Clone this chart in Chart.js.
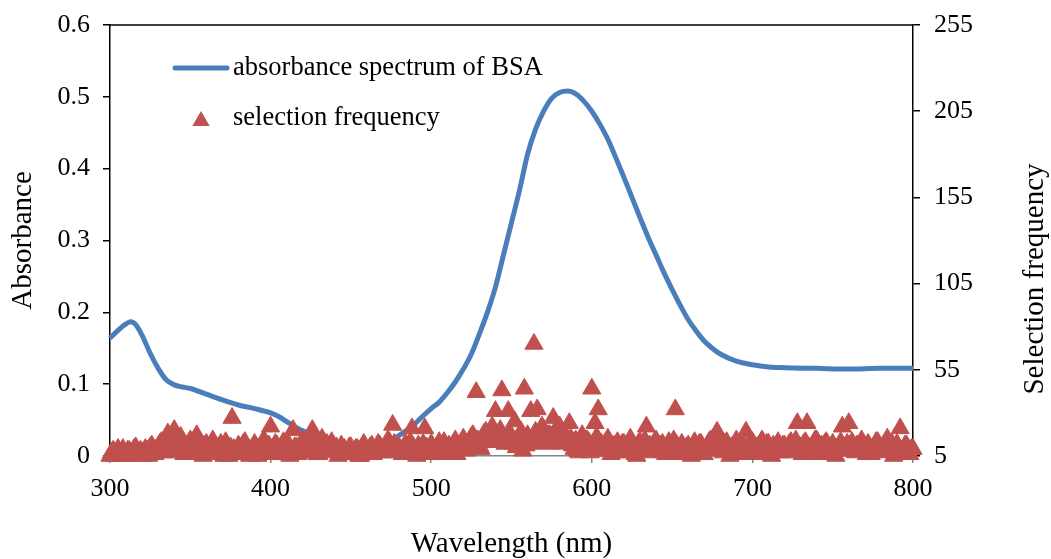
<!DOCTYPE html>
<html>
<head>
<meta charset="utf-8">
<script src="https://cdn.jsdelivr.net/npm/chart.js@4.4.1/dist/chart.umd.min.js"></script>
<style>
  html, body { margin: 0; padding: 0; background: #ffffff; }
  #wrap { width: 1051px; height: 559px; position: relative; }
</style>
</head>
<body>
<div id="wrap"><canvas id="chart" width="1051" height="559"></canvas></div>
<script>
// Absorbance spectrum of BSA: wavelength (nm) and absorbance
const absWavelengths = [300, 305, 310, 313, 316, 320, 325, 330, 335, 340, 345, 350, 360, 370, 380, 390, 400, 405, 410, 415, 420, 430, 440, 450, 460, 470, 478, 485, 490, 495, 500, 505, 510, 515, 520, 525, 530, 535, 540, 545, 550, 555, 560, 565, 570, 575, 580, 585, 590, 595, 600, 605, 610, 615, 620, 625, 630, 635, 640, 645, 650, 655, 660, 665, 670, 675, 680, 690, 700, 710, 720, 740, 760, 780, 800];
const absorbance = [0.164, 0.175, 0.184, 0.187, 0.183, 0.168, 0.143, 0.122, 0.106, 0.099, 0.096, 0.094, 0.086, 0.078, 0.071, 0.066, 0.060, 0.055, 0.048, 0.041, 0.035, 0.025, 0.018, 0.014, 0.014, 0.018, 0.026, 0.036, 0.045, 0.056, 0.066, 0.075, 0.088, 0.103, 0.121, 0.142, 0.170, 0.200, 0.235, 0.280, 0.325, 0.370, 0.420, 0.455, 0.480, 0.498, 0.506, 0.508, 0.504, 0.494, 0.480, 0.462, 0.441, 0.415, 0.388, 0.360, 0.332, 0.305, 0.280, 0.255, 0.232, 0.210, 0.190, 0.174, 0.160, 0.150, 0.142, 0.132, 0.127, 0.124, 0.123, 0.122, 0.121, 0.122, 0.122];

// Selection frequency for each wavelength, 300-800 nm in 1 nm steps (one row = 20 nm)
const freqStart = 300;
const freqStep = 1;
const selectionFrequency = [
  5, 7, 8, 5, 5, 9, 7, 6, 9, 5, 5, 8, 8, 6, 6, 9, 10, 7, 5, 8,
  7, 5, 9, 8, 5, 10, 11, 6, 6, 9, 8, 12, 13, 7, 7, 10, 18, 12, 10, 16,
  20, 9, 8, 14, 16, 7, 6, 10, 11, 8, 14, 9, 7, 12, 17, 8, 9, 6, 5, 11,
  12, 7, 8, 10, 14, 6, 6, 9, 10, 12, 9, 5, 13, 8, 5, 10, 27, 9, 8, 6,
  11, 8, 6, 12, 13, 7, 9, 5, 7, 10, 12, 8, 5, 9, 10, 13, 14, 6, 8, 11,
  22, 9, 7, 12, 11, 6, 6, 10, 13, 8, 9, 12, 5, 8, 20, 10, 10, 6, 7, 11,
  14, 9, 8, 11, 12, 7, 20, 12, 9, 6, 6, 10, 15, 8, 10, 12, 7, 9, 13, 8,
  8, 10, 5, 7, 11, 8, 9, 6, 6, 10, 10, 7, 7, 9, 9, 5, 5, 8, 12, 9,
  8, 6, 10, 11, 6, 8, 9, 12, 11, 7, 7, 9, 10, 14, 13, 9, 23, 12, 8, 10,
  10, 7, 6, 9, 12, 8, 9, 13, 21, 10, 7, 5, 11, 8, 9, 12, 21, 10, 8, 6,
  12, 9, 6, 8, 10, 13, 9, 6, 13, 10, 7, 11, 10, 8, 12, 14, 6, 9, 11, 13,
  15, 10, 8, 12, 13, 16, 17, 11, 42, 14, 11, 9, 15, 18, 19, 13, 13, 16, 22, 14,
  31, 15, 17, 20, 43, 14, 12, 16, 31, 18, 15, 12, 25, 10, 13, 17, 19, 8, 44, 11,
  17, 12, 31, 14, 70, 19, 32, 16, 15, 22, 20, 13, 12, 17, 17, 15, 27, 19, 13, 16,
  22, 14, 12, 18, 16, 13, 24, 15, 11, 9, 14, 8, 7, 11, 17, 9, 10, 14, 13, 7,
  44, 12, 24, 16, 32, 10, 12, 8, 8, 13, 15, 10, 6, 9, 11, 7, 13, 10, 9, 12,
  12, 9, 7, 11, 15, 8, 10, 6, 5, 12, 13, 9, 9, 14, 22, 10, 11, 8, 7, 13,
  14, 9, 8, 11, 12, 7, 6, 10, 13, 9, 10, 14, 32, 11, 8, 6, 12, 9, 7, 10,
  11, 8, 5, 10, 13, 7, 9, 12, 12, 6, 6, 9, 10, 13, 14, 9, 8, 11, 19, 10,
  11, 8, 7, 12, 13, 9, 5, 10, 10, 7, 14, 11, 8, 13, 12, 6, 19, 10, 9, 12,
  13, 9, 6, 10, 11, 8, 14, 7, 8, 12, 12, 9, 5, 11, 10, 8, 13, 10, 7, 11,
  11, 7, 9, 12, 13, 10, 8, 14, 24, 9, 10, 6, 12, 13, 24, 10, 7, 9, 11, 14,
  14, 8, 6, 11, 10, 12, 13, 7, 8, 10, 12, 9, 5, 8, 11, 13, 22, 10, 9, 12,
  24, 10, 13, 8, 7, 11, 11, 9, 14, 12, 8, 6, 12, 10, 6, 9, 10, 13, 13, 8,
  7, 10, 11, 9, 15, 8, 9, 12, 5, 7, 12, 10, 21, 8, 8, 11, 11, 7, 6, 9,
  9
];

// Axis ticks
const xTicks = [300, 400, 500, 600, 700, 800];
const leftTicks = [0, 0.1, 0.2, 0.3, 0.4, 0.5, 0.6];
const rightTicks = [5, 55, 105, 155, 205, 255];

const labelAbs = 'absorbance spectrum of BSA';
const labelFreq = 'selection frequency';
const titleX = 'Wavelength (nm)';
const titleLeft = 'Absorbance';
const titleRight = 'Selection frequency';

const FONT = '"Liberation Serif", "Times New Roman", serif';
const BLUE = '#4a7ebb';
const RED = '#c0504d';

const absPoints = absWavelengths.map((w, i) => ({ x: w, y: absorbance[i] }));
const freqPoints = selectionFrequency.map((v, i) => ({ x: freqStart + i * freqStep, y: v }));

// Frame top line, in-plot legend and right-hand axis title
const decorations = {
  id: 'decorations',
  afterDraw(chart) {
    const ctx = chart.ctx;
    const a = chart.chartArea;
    ctx.save();
    // top frame line
    ctx.strokeStyle = '#000000';
    ctx.lineWidth = 1.5;
    ctx.beginPath();
    ctx.moveTo(a.left, a.top);
    ctx.lineTo(a.right, a.top);
    ctx.stroke();

    // legend
    ctx.font = '26.5px ' + FONT;
    ctx.fillStyle = '#000000';
    ctx.textBaseline = 'middle';
    ctx.textAlign = 'left';
    ctx.strokeStyle = BLUE;
    ctx.lineWidth = 5;
    ctx.lineCap = 'round';
    ctx.beginPath();
    ctx.moveTo(175, 68);
    ctx.lineTo(227, 68);
    ctx.stroke();
    ctx.fillText(labelAbs, 233, 68);

    ctx.fillStyle = RED;
    const tx = 201, ty = 121, r = 10;
    ctx.beginPath();
    ctx.moveTo(tx, ty - r);
    ctx.lineTo(tx + r * 0.866, ty + r * 0.5);
    ctx.lineTo(tx - r * 0.866, ty + r * 0.5);
    ctx.closePath();
    ctx.fill();
    ctx.fillStyle = '#000000';
    ctx.fillText(labelFreq, 233, 118);

    // right axis title, reading bottom to top
    ctx.font = '29px ' + FONT;
    ctx.translate(1035, 279);
    ctx.rotate(-Math.PI / 2);
    ctx.textAlign = 'center';
    ctx.fillText(titleRight, 0, 0);
    ctx.restore();
  }
};

// vertical axes keep a fixed width and add no extra top/bottom padding
const fixVertical = w => s => { s.width = w; s.paddingTop = 0; s.paddingBottom = 0; };

new Chart(document.getElementById('chart'), {
  data: {
    datasets: [
      {
        type: 'scatter',
        label: labelFreq,
        data: freqPoints,
        yAxisID: 'y1',
        pointStyle: 'triangle',
        pointRadius: 10.5,
        pointBackgroundColor: RED,
        pointBorderColor: RED,
        pointBorderWidth: 1,
        clip: false,
        order: 1
      },
      {
        type: 'line',
        label: labelAbs,
        data: absPoints,
        yAxisID: 'y',
        borderColor: BLUE,
        borderWidth: 5,
        pointRadius: 0,
        cubicInterpolationMode: 'monotone',
        fill: false,
        clip: false,
        order: 2
      }
    ]
  },
  options: {
    responsive: false,
    animation: false,
    devicePixelRatio: 1,
    layout: { padding: { top: 25, left: 0, right: 0, bottom: 0 } },
    plugins: {
      legend: { display: false },
      tooltip: { enabled: false }
    },
    scales: {
      x: {
        type: 'linear',
        min: 300,
        max: 800,
        afterFit: s => { s.height = 103; },
        afterBuildTicks: s => { s.ticks = xTicks.map(v => ({ value: v })); },
        ticks: { color: '#000000', font: { family: FONT, size: 26 }, padding: 11, maxRotation: 0 },
        grid: { drawOnChartArea: false, color: '#868686', tickLength: 7, lineWidth: 1.5 },
        border: { color: '#868686', width: 1.5 },
        title: { display: true, text: titleX, color: '#000000', font: { family: FONT, size: 29, lineHeight: 1 }, padding: { top: 14, bottom: 0 } }
      },
      y: {
        position: 'left',
        min: 0,
        max: 0.6,
        afterFit: fixVertical(110),
        afterBuildTicks: s => { s.ticks = leftTicks.map(v => ({ value: v })); },
        ticks: {
          color: '#000000', font: { family: FONT, size: 26 }, padding: 13,
          callback: v => (v === 0 ? '0' : v.toFixed(1))
        },
        grid: { drawOnChartArea: false, color: '#000000', tickLength: 7, lineWidth: 1.5 },
        border: { color: '#000000', width: 1.5 },
        title: { display: true, text: titleLeft, color: '#000000', font: { family: FONT, size: 29 }, padding: { top: 6 } }
      },
      y1: {
        position: 'right',
        min: 5,
        max: 255,
        afterFit: fixVertical(138),
        afterBuildTicks: s => { s.ticks = rightTicks.map(v => ({ value: v })); },
        ticks: { color: '#000000', font: { family: FONT, size: 26 }, padding: 14 },
        grid: { drawOnChartArea: false, color: '#000000', tickLength: 7, lineWidth: 1.5 },
        border: { color: '#000000', width: 1.5 }
      }
    }
  },
  plugins: [decorations]
});
</script>
</body>
</html>
